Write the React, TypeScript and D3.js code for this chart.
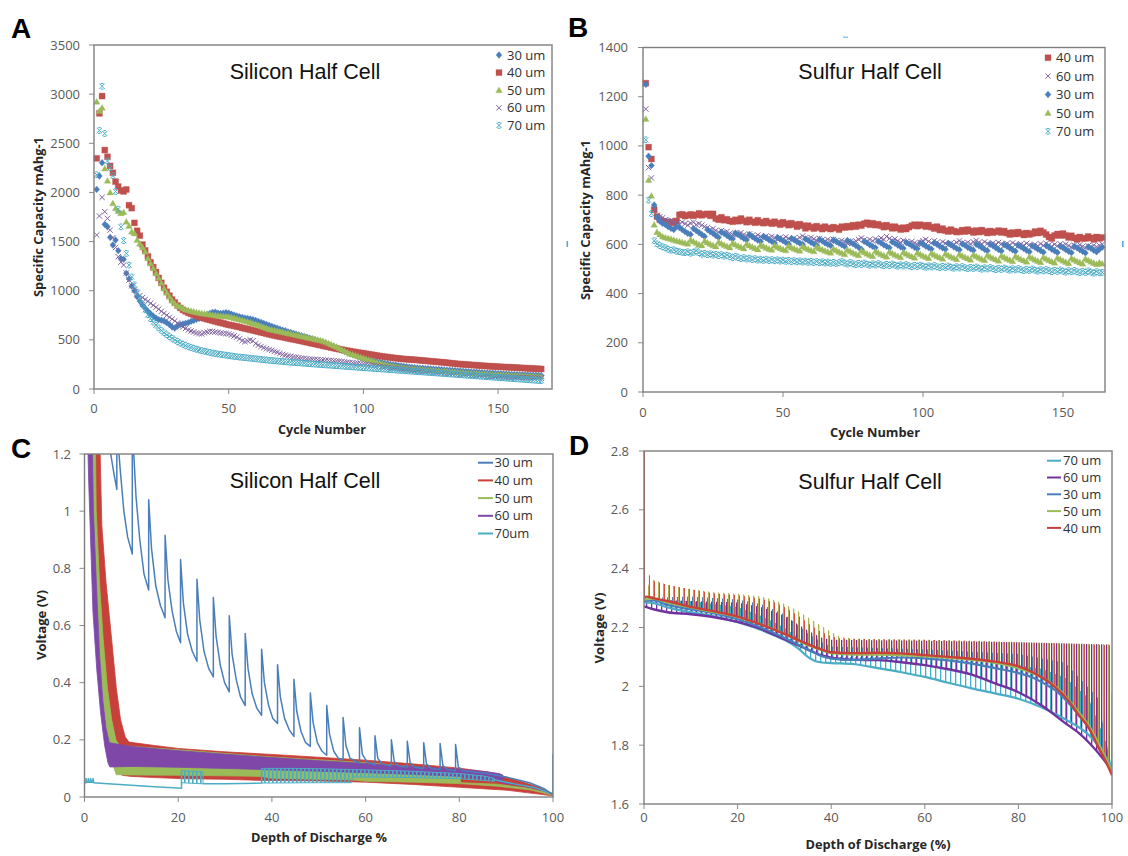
import React from "react";
import * as d3 from "d3";

// ---------------- Panel A: Silicon half cell, specific capacity vs cycle ----------------
const siCap30 = [
  2031,2167,2302,1675,1651,1543,1465,1516,1407,1329,
  1319,1177,1120,1048,1000,939,895,855,820,790,
  765,742,722,705,700,692,675,655,630,620,
  640,655,662,668,675,688,698,708,718,730,
  745,758,770,780,782,772,768,772,778,772,
  762,752,743,735,728,722,718,712,706,698,
  688,678,668,658,648,638,628,618,608,598,
  593,582,576,566,559,550,543,534,527,518,
  510,501,490,482,470,461,450,441,430,420,
  408,397,384,373,360,351,340,331,320,312,
  305,299,291,286,279,273,268,261,256,250,
  246,243,238,235,230,227,223,221,217,214,
  212,211,208,207,204,203,200,199,196,194,
  192,191,188,187,184,183,180,179,176,174,
  172,171,168,167,164,163,161,160,158,157,
  155,154,152,151,149,148,147,146,145,144,
  143,142,141,140,139,138,
];
const siCap40 = [
  2347,2804,2980,2431,2363,2270,2200,2110,2060,2020,
  2010,2030,1870,1840,1690,1610,1560,1470,1410,1350,
  1290,1240,1190,1130,1080,1030,990,950,910,880,
  850,825,805,790,775,765,755,745,735,725,
  718,710,703,695,688,680,675,668,660,653,
  648,642,636,630,622,616,610,603,597,590,
  583,577,570,563,557,550,544,538,533,528,
  522,516,510,505,500,494,488,482,476,470,
  464,458,452,446,440,434,428,422,416,410,
  405,400,395,390,385,380,376,371,367,363,
  358,354,349,345,340,336,332,328,324,320,
  317,314,311,308,305,303,301,299,297,295,
  292,290,287,285,282,280,277,275,272,270,
  267,264,261,258,255,253,251,249,247,245,
  243,241,239,237,235,233,231,230,228,227,
  225,224,222,221,220,218,217,215,214,212,
  211,209,208,206,205,204,
];
const siCap50 = [
  2923,2830,2862,2245,2120,2000,1890,1840,1810,1790,
  1800,1702,1660,1600,1584,1516,1480,1440,1397,1330,
  1278,1230,1177,1130,1080,1024,980,939,900,871,
  850,837,823,810,802,795,788,782,776,770,
  767,763,759,753,750,747,744,741,738,736,
  730,722,715,708,700,692,684,676,668,660,
  650,640,630,620,610,604,598,592,586,580,
  574,568,562,556,550,544,538,532,526,520,
  514,508,502,496,490,478,466,454,442,430,
  416,402,388,374,360,351,342,333,324,315,
  306,297,288,279,270,263,256,249,242,235,
  231,227,223,219,215,212,209,206,203,200,
  198,196,194,192,190,188,186,184,182,180,
  178,176,174,172,170,168,166,164,162,160,
  158,157,155,154,152,151,149,148,146,145,
  144,142,141,140,139,137,136,135,134,132,
  131,130,129,127,126,125,
];
const siCap60 = [
  1567,1760,1950,1804,1736,1617,1540,1440,1346,1290,
  1261,1180,1109,1050,1007,973,950,930,910,892,
  872,852,832,812,790,770,750,730,712,693,
  672,652,632,616,600,590,580,570,565,560,
  572,580,586,585,580,576,570,566,565,560,
  550,540,528,510,492,482,490,500,490,462,
  446,432,420,410,401,394,384,374,362,352,
  345,338,332,326,321,318,314,311,308,305,
  303,301,299,297,295,293,291,289,287,285,
  282,279,276,273,270,267,264,261,258,255,
  251,247,243,239,235,231,227,223,219,215,
  212,209,206,203,200,197,194,191,188,185,
  183,180,178,175,173,170,168,165,163,160,
  158,156,154,152,150,148,146,144,142,140,
  139,137,136,134,133,131,130,128,127,125,
  124,123,122,121,120,119,118,117,116,115,
  114,113,112,111,110,109,
];
const siCap70 = [
  2180,2630,3080,2600,2320,2250,2170,2010,1830,1650,
  1510,1380,1260,1140,1060,985,920,860,805,755,
  715,680,650,622,595,572,552,533,515,498,
  483,468,455,443,432,422,413,405,397,390,
  384,378,372,366,361,356,352,348,344,340,
  336,332,328,325,322,319,316,313,310,307,
  304,301,298,295,292,290,287,285,282,280,
  277,275,272,270,268,266,264,262,259,257,
  255,253,251,249,247,245,243,241,239,237,
  235,233,231,229,227,225,223,221,219,217,
  215,213,211,209,207,205,203,201,199,197,
  195,193,191,189,187,185,183,181,179,177,
  175,173,171,169,167,165,163,161,159,157,
  155,153,151,149,147,145,143,141,139,137,
  135,133,131,129,127,125,123,121,119,117,
  115,113,111,109,107,105,103,101,99,97,
  95,93,91,89,87,85,
];

// ---------------- Panel B: Sulfur half cell ----------------
const sCap40 = [
  1255,995,947,740,713,700,695,692,690,688,
  690,695,720,722,715,718,722,716,720,726,
  718,722,724,716,724,705,700,710,698,702,
  695,692,700,694,705,696,690,700,692,688,
  698,690,686,695,688,684,692,686,680,690,
  684,678,686,680,672,682,676,665,676,670,
  664,674,668,662,672,666,662,670,666,660,
  672,668,674,670,678,672,680,676,684,688,
  680,686,678,682,676,670,678,672,665,672,
  666,660,668,662,670,676,680,674,680,677,
  672,678,670,664,672,658,664,656,652,660,
  654,650,651,658,652,660,654,648,656,650,
  658,652,646,654,648,651,656,648,654,646,
  640,648,642,650,644,638,646,640,644,652,
  646,655,648,640,630,624,636,642,636,644,
  636,628,635,626,620,630,624,624,632,626,
  620,630,624,628,
];
const sCap60 = [
  1150,912,870,745,718,712,708,700,695,698,
  690,686,682,690,684,678,686,690,680,684,
  678,672,668,660,664,656,650,656,648,652,
  644,640,646,640,648,640,634,642,636,630,
  638,632,626,634,628,632,626,620,628,622,
  630,624,618,626,620,628,634,626,620,628,
  622,616,624,618,612,620,614,620,614,608,
  616,610,604,612,606,614,620,626,618,612,
  620,614,622,616,626,620,632,624,616,622,
  614,608,616,610,604,612,606,600,608,614,
  620,612,606,614,608,602,610,604,598,606,
  600,608,614,606,600,608,602,610,616,608,
  602,610,604,598,606,600,608,602,596,604,
  598,606,600,594,602,596,604,598,592,600,
  594,602,596,604,598,592,600,594,602,596,
  600,594,588,596,590,598,592,586,594,588,
  596,590,596,600,
];
const sCap30 = [
  1250,958,920,760,710,695,685,680,672,665,
  660,672,668,660,652,645,640,664,656,648,
  640,632,660,652,645,636,628,650,644,636,
  628,622,646,640,632,624,618,640,632,624,
  617,612,632,626,618,612,606,628,622,615,
  608,602,624,618,611,605,600,622,616,608,
  602,597,620,614,606,600,595,618,612,605,
  598,592,616,610,602,595,588,580,612,606,
  598,592,586,612,606,598,592,586,610,604,
  597,590,584,608,602,595,588,582,606,600,
  593,587,581,606,600,592,586,580,604,598,
  590,584,578,602,596,588,582,576,600,594,
  587,580,574,600,594,586,579,573,598,592,
  585,578,572,596,590,583,576,570,594,588,
  581,575,568,594,588,580,574,567,592,586,
  579,572,566,592,586,578,572,565,590,584,
  576,570,580,588,
];
const sCap50 = [
  1110,862,798,680,650,640,632,628,625,622,
  618,615,612,609,606,603,618,612,606,600,
  596,614,608,602,597,592,610,604,598,593,
  588,605,600,594,589,584,602,596,590,585,
  580,598,593,587,582,578,596,590,585,580,
  576,594,588,583,578,574,592,586,581,576,
  572,590,584,579,574,570,566,582,576,570,
  565,560,578,572,566,561,556,574,568,562,
  557,552,572,566,560,555,550,570,564,558,
  553,548,568,562,556,551,546,566,560,554,
  549,544,564,558,552,547,542,562,556,550,
  545,540,560,554,548,543,538,558,552,546,
  541,536,556,550,544,539,534,554,548,542,
  537,532,552,546,540,535,530,550,544,538,
  533,528,548,542,536,531,526,546,540,534,
  529,524,544,538,532,527,522,542,536,530,
  525,520,526,522,
];
const sCap70 = [
  1025,780,725,615,602,595,590,586,580,576,
  578,572,570,568,566,570,564,568,574,566,
  560,564,558,562,556,560,554,558,552,556,
  550,546,552,546,542,546,540,544,538,542,
  536,540,535,540,534,538,533,537,532,536,
  531,535,530,534,529,533,528,532,527,531,
  526,530,525,529,524,528,523,527,522,526,
  530,524,520,526,521,517,523,518,524,519,
  515,521,516,522,517,513,519,514,520,515,
  511,517,512,518,513,509,515,510,516,511,
  507,513,508,514,509,505,511,506,512,507,
  503,509,504,510,505,501,507,502,508,503,
  499,505,500,506,501,497,503,498,504,499,
  495,501,496,502,497,493,499,494,500,495,
  491,497,492,498,493,489,495,490,496,491,
  487,493,488,494,489,485,491,486,492,487,
  483,489,484,486,
];

// ---------------- Panel C: Silicon half cell voltage vs depth of discharge ----------------
const siV30 = [
  [4.8,1.3],[5.6,1.2],[6.3,1.13],[6.9,1.076],[6.9,1.3],[7.6,1.15],[8.4,1.0],[9.2,0.91],[10.2,0.85],
  [10.2,1.3],[11.0,1.05],[11.8,0.9],[12.7,0.78],[13.7,0.724],[13.7,1.04],[14.3,0.87],[15.2,0.74],[16.2,0.67],
  [17.2,0.627],[17.2,0.916],[17.8,0.76],[18.7,0.65],[19.6,0.58],[20.5,0.54],[20.5,0.831],[21.1,0.68],[22.0,0.57],
  [23.0,0.51],[24.0,0.475],[24.0,0.762],[24.6,0.62],[25.5,0.51],[26.5,0.45],[27.5,0.42],[27.5,0.698],[28.1,0.56],
  [29.0,0.46],[29.9,0.4],[30.9,0.368],[30.9,0.634],[31.5,0.5],[32.4,0.41],[33.3,0.35],[34.3,0.32],[34.3,0.572],
  [34.9,0.45],[35.8,0.36],[36.8,0.31],[37.8,0.286],[37.8,0.517],[38.4,0.4],[39.3,0.32],[40.2,0.275],[41.2,0.257],
  [41.2,0.463],[41.8,0.35],[42.7,0.275],[43.7,0.235],[44.7,0.212],[44.7,0.412],[45.3,0.3],[46.2,0.23],[47.2,0.19],
  [48.2,0.177],[48.2,0.364],[48.8,0.26],[49.7,0.19],[50.7,0.16],[51.7,0.146],[51.7,0.32],[52.3,0.22],[53.2,0.16],
  [54.2,0.135],[55.2,0.128],[55.2,0.278],[55.8,0.18],[56.7,0.135],[58.7,0.118],[58.7,0.242],[59.3,0.15],[60.3,0.122],
  [62.0,0.113],[62.0,0.214],[62.6,0.135],[63.6,0.115],[65.5,0.108],[65.5,0.2],[66.1,0.125],[67.0,0.108],[68.9,0.104],
  [68.9,0.195],[69.5,0.12],[70.5,0.104],[72.4,0.1],[72.4,0.19],[73.0,0.115],[74.0,0.1],[75.9,0.096],[75.9,0.187],
  [76.5,0.11],[77.5,0.096],[79.2,0.092],[79.2,0.184],[79.8,0.105],[80.8,0.092],[85,0.085],[90,0.07],[95,0.05],
  [98,0.03],[100,0.008],[100,0.15],
];
const siV40Band = [
  [2.0,1.3],[3.2,1.3],[3.7,0.95],[4.6,0.75],[5.8,0.55],[6.8,0.38],[7.7,0.27],[8.7,0.21],[9.5,0.192],
  [15,0.18],[20,0.17],[30,0.158],[40,0.149],[50,0.139],[60,0.129],[70,0.116],[80,0.101],[86,0.088],
  [92,0.06],[97,0.035],[100,0.008],[100,0.004],[90,0.024],[80,0.034],[70,0.044],[60,0.052],[50,0.056],
  [38,0.058],[30,0.062],[21,0.064],[15,0.068],[10,0.072],[8.0,0.076],[7.5,0.12],[6.8,0.18],[5.8,0.25],
  [4.8,0.35],[3.8,0.5],[3.1,0.7],[2.3,0.95],[2.0,1.3],
];
const siV50Band = [
  [1.5,1.3],[2.3,1.3],[2.5,1.0],[3.2,0.75],[4.0,0.55],[4.9,0.38],[5.8,0.27],[6.7,0.2],[7.5,0.18],
  [20,0.165],[40,0.14],[60,0.12],[75,0.1],[80,0.09],[80.3,0.05],[88,0.045],[95,0.03],[100,0.009],
  [100,0.006],[95,0.025],[88,0.038],[80,0.047],[70,0.052],[60,0.055],[57,0.06],[50,0.062],[40,0.066],
  [37.8,0.072],[30,0.074],[20,0.076],[10,0.077],[6.8,0.078],[6.3,0.1],[5.6,0.15],[4.8,0.22],[4.0,0.33],
  [3.2,0.5],[2.5,0.7],[1.8,0.95],[1.5,1.3],
];
const siV60Band = [
  [0.6,1.3],[1.6,1.3],[1.9,1.0],[2.6,0.72],[3.2,0.5],[3.9,0.34],[4.6,0.24],[5.3,0.19],[10,0.177],
  [20,0.162],[30,0.15],[40,0.138],[50,0.127],[60,0.117],[70,0.107],[80,0.097],[86,0.088],[88.5,0.082],
  [89.3,0.077],[89.3,0.05],[88,0.056],[80,0.072],[70,0.079],[60,0.085],[50,0.09],[40,0.095],[30,0.1],
  [20,0.104],[10,0.107],[5.4,0.105],[5.0,0.12],[4.3,0.18],[3.4,0.3],[2.6,0.45],[1.8,0.65],[1.3,0.9],
  [0.9,1.1],[0.6,1.3],
];
const siV60Tail = [[89.3,0.05],[93,0.042],[96,0.032],[98,0.024],[100,0.01]];
const siV70Line = [
  [0,0.05],[0.3,0.05],[0.3,0.066],[0.5,0.052],[0.8,0.052],[0.8,0.066],[1.0,0.052],[1.3,0.052],[1.3,0.066],
  [1.5,0.052],[1.8,0.051],[1.8,0.066],[2.0,0.05],[5,0.046],[10,0.041],[15,0.036],[20.7,0.031],[20.7,0.092],
];
const siV70Mid = [[25.3,0.046],[30,0.046],[37.8,0.049],[37.8,0.1]];
const siV70Tail = [[87.5,0.06],[92,0.045],[96,0.033],[100,0.01]];
const siV70Block = [[20.7,0.092],[25.3,0.088],[25.3,0.046],[20.7,0.05]];
const siV70Band = [
  [37.8,0.1],[45,0.1],[50,0.099],[57,0.096],[60,0.095],[70,0.09],[80,0.082],[85,0.074],[87.5,0.065],
  [87.5,0.055],[80,0.064],[70,0.068],[60,0.07],[57.2,0.07],[57,0.05],[50,0.05],[40,0.049],[37.8,0.049],
];

// ---------------- Panel D: Sulfur half cell voltage vs depth of discharge ----------------
const sV40Low = [[0,2.3],[0.5,2.305],[2,2.3],[5,2.29],[10,2.27],[15,2.255],[20,2.237],[25,2.21],[30,2.178],[34,2.15],[37.5,2.128],[40,2.116],[45,2.113],[50,2.114],[55,2.112],[60,2.106],[65,2.1],[70,2.094],[75,2.084],[80,2.068],[83,2.048],[86,2.02],[88,1.995],[90.5,1.955],[93,1.9],[95,1.86],[97,1.795],[98.5,1.75],[100,1.698]];
const sV40Top = [[0.8,2.39],[1.7,2.36],[5,2.345],[10,2.33],[15,2.316],[20,2.31],[25,2.298],[28,2.285],[30,2.27],[33,2.24],[35,2.215],[37.5,2.188],[40,2.17],[42,2.163],[50,2.16],[60,2.158],[70,2.155],[80,2.15],[90,2.146],[99.6,2.14]];
const sV40Spike = [[0,2.3],[0,2.8]];
const sV50Low = [[0,2.295],[2,2.298],[5,2.285],[10,2.268],[15,2.252],[20,2.235],[25,2.21],[30,2.178],[35,2.14],[38,2.123],[40,2.113],[45,2.108],[50,2.108],[60,2.102],[70,2.09],[75,2.08],[80,2.062],[85,2.03],[88,1.998],[90,1.968],[93,1.91],[95,1.868],[97,1.81],[99,1.745],[100,1.71]];
const sV50Top = [[1.4,2.366],[5,2.345],[10,2.33],[15,2.32],[20,2.315],[25,2.305],[28,2.293],[30,2.28],[33,2.255],[35,2.235],[38,2.205],[40,2.185],[42,2.168],[45,2.162],[60,2.158],[80,2.15],[99.6,2.143]];
const sV50End = [[100,1.71],[100,1.98]];
const sV30Low = [[0,2.29],[2,2.292],[5,2.277],[10,2.262],[15,2.248],[20,2.228],[25,2.2],[30,2.165],[35,2.125],[38,2.102],[40,2.094],[45,2.09],[50,2.094],[55,2.098],[60,2.095],[65,2.088],[70,2.077],[75,2.062],[80,2.045],[83,2.03],[86,2.005],[88,1.985],[90,1.955],[93,1.9],[95,1.86],[97,1.8],[99,1.74],[100,1.71]];
const sV30Top = [[0.5,2.3],[10,2.305],[20,2.295],[25,2.28],[30,2.245],[35,2.18],[38,2.15],[40,2.135],[60,2.125],[80,2.11],[90,2.08],[97,1.96]];
const sV60Low = [[0,2.272],[2,2.262],[5,2.252],[10,2.245],[15,2.235],[20,2.219],[25,2.195],[30,2.16],[35,2.125],[38,2.105],[40,2.097],[45,2.09],[50,2.089],[55,2.082],[60,2.072],[65,2.058],[70,2.04],[75,2.01],[80,1.98],[85,1.935],[90,1.875],[93,1.84],[95,1.81],[97,1.775],[99,1.735],[100,1.715]];
const sV60Top = [[0.5,2.295],[5,2.293],[10,2.29],[20,2.285],[25,2.27],[30,2.24],[35,2.19],[38,2.165],[40,2.158],[60,2.155],[80,2.15],[99.6,2.142]];
const sV70Low = [[0,2.285],[2,2.283],[5,2.268],[10,2.252],[15,2.238],[20,2.218],[25,2.192],[28,2.172],[30,2.158],[33,2.128],[35,2.1],[36.5,2.086],[38,2.081],[40,2.079],[45,2.075],[50,2.062],[55,2.048],[60,2.032],[65,2.012],[70,1.993],[75,1.976],[80,1.958],[85,1.928],[88,1.905],[90,1.888],[93,1.86],[95,1.835],[97,1.8],[99,1.75],[100,1.72]];
const sV70Top = [[0.5,2.295],[10,2.29],[20,2.27],[25,2.24],[30,2.2],[33,2.165],[36,2.11],[38,2.1],[50,2.1],[60,2.095],[70,2.085],[80,2.072],[85,2.06],[90,2.03],[95,1.96],[99,1.8]];

// ---------------- axes ticks / labels ----------------
const cycleTicks = [0, 50, 100, 150];
const capTicksA = [0, 500, 1000, 1500, 2000, 2500, 3000, 3500];
const capTicksB = [0, 200, 400, 600, 800, 1000, 1200, 1400];
const dodTicks = [0, 20, 40, 60, 80, 100];
const voltTicksC = [0, 0.2, 0.4, 0.6, 0.8, 1, 1.2];
const voltTicksD = [1.6, 1.8, 2, 2.2, 2.4, 2.6, 2.8];
const legendA = ["30 um", "40 um", "50 um", "60 um", "70 um"];
const legendB = ["40 um", "60 um", "30 um", "50 um", "70 um"];
const legendC = ["30 um", "40 um", "50 um", "60 um", "70um"];
const legendD = ["70 um", "60 um", "30 um", "50 um", "40 um"];

const COL = {
  blue: "#4A7EBB",
  red: "#C0504D",
  green: "#9BBB59",
  purple: "#8064A2",
  cyan: "#4BACC6",
};
const CPURPLE = "#7E47A8";
const CRED = "#C8403A";
const DPURPLE = "#7032A0";

const SHAPES: Record<string, { d: string; fill: boolean }> = {
  diamond: { d: "M0,-3.4L3,0L0,3.4L-3,0Z", fill: true },
  square: { d: "M-3,-3H3V3H-3Z", fill: true },
  triangle: { d: "M0,-3.2L3.3,2.6H-3.3Z", fill: true },
  x: { d: "M-2.7,-2.7L2.7,2.7M-2.7,2.7L2.7,-2.7", fill: false },
  star: { d: "M-2.6,-2.6L2.6,2.6M-2.6,2.6L2.6,-2.6M-1.4,-2.8H1.4M-1.4,2.8H1.4", fill: false },
};

const tickStyle: React.CSSProperties = { fontFamily: "'Open Sans', sans-serif", fontSize: 13, fill: "#595959" };
const axTitle: React.CSSProperties = { fontFamily: "'Open Sans', sans-serif", fontSize: 12.5, fontWeight: 700, fill: "#262626" };
const legStyle: React.CSSProperties = { fontFamily: "'Open Sans', sans-serif", fontSize: 13, fill: "#303030" };
const titleStyle: React.CSSProperties = { fontFamily: "'Liberation Sans', Arial, sans-serif", fontSize: 21.5, fill: "#111" };
const letterStyle: React.CSSProperties = { fontFamily: "'Liberation Sans', Arial, sans-serif", fontSize: 28, fontWeight: 700, fill: "#000" };

function fmtNum(v: number) {
  return String(+v.toFixed(1));
}

function Ticks({ xs, ys, xt, yt, xLabY, yLabX }: any) {
  const [l] = xs.range();
  const [b] = ys.range();
  return (
    <g>
      {xt.map((v: number) => (
        <line key={"xt" + v} x1={xs(v)} x2={xs(v)} y1={b} y2={b + 5} stroke="#8a8a8a" strokeWidth={1} />
      ))}
      {yt.map((v: number) => (
        <line key={"yt" + v} x1={l - 5} x2={l} y1={ys(v)} y2={ys(v)} stroke="#8a8a8a" strokeWidth={1} />
      ))}
      {xt.map((v: number) => (
        <text key={"xl" + v} x={xs(v)} y={xLabY} textAnchor="middle" style={tickStyle}>
          {fmtNum(v)}
        </text>
      ))}
      {yt.map((v: number) => (
        <text key={"yl" + v} x={yLabX} y={ys(v) + 4.5} textAnchor="end" style={tickStyle}>
          {fmtNum(v)}
        </text>
      ))}
    </g>
  );
}

function Box({ xs, ys }: any) {
  const [l, r] = xs.range();
  const [b, t] = ys.range();
  return <rect x={l} y={t} width={r - l} height={b - t} fill="none" stroke="#7f7f7f" strokeWidth={1.4} />;
}

function Markers({ data, xs, ys, shape, color }: any) {
  const s = SHAPES[shape];
  return (
    <g>
      {data.map((v: number, i: number) => (
        <path
          key={i}
          d={s.d}
          transform={`translate(${xs(i + 1)},${ys(v)})`}
          fill={s.fill ? color : "none"}
          stroke={color}
          strokeWidth={s.fill ? 0.3 : 1}
        />
      ))}
    </g>
  );
}

export default function App() {
  const xA = d3.scaleLinear().domain([0, 170]).range([94, 552]);
  const yA = d3.scaleLinear().domain([0, 3500]).range([389, 45]);
  const xB = d3.scaleLinear().domain([0, 165]).range([643, 1105]);
  const yB = d3.scaleLinear().domain([0, 1400]).range([392, 47.5]);
  const xC = d3.scaleLinear().domain([0, 100]).range([84.5, 553]);
  const yC = d3.scaleLinear().domain([0, 1.2]).range([797, 454]);
  const xD = d3.scaleLinear().domain([0, 100]).range([644, 1112]);
  const yD = d3.scaleLinear().domain([1.6, 2.8]).range([804, 451]);

  const lineC = d3.line<number[]>().x((d) => xC(d[0])).y((d) => yC(d[1]));
  const lineD = d3.line<number[]>().x((d) => xD(d[0])).y((d) => yD(d[1]));
  const lowD = d3
    .line<number[]>()
    .x((d) => xD(d[0]))
    .y((d) => yD(d[1]))
    .curve(d3.curveMonotoneX);
  const polyD = (top: number[][], low: number[][]) => lineD([...top, ...low.slice().reverse()]) + "Z";

  const seriesA = [
    { data: siCap30, shape: "diamond", color: COL.blue },
    { data: siCap40, shape: "square", color: COL.red },
    { data: siCap50, shape: "triangle", color: COL.green },
    { data: siCap60, shape: "x", color: COL.purple },
    { data: siCap70, shape: "star", color: COL.cyan },
  ];
  const seriesB = [
    { data: sCap40, shape: "square", color: COL.red },
    { data: sCap60, shape: "x", color: COL.purple },
    { data: sCap30, shape: "diamond", color: COL.blue },
    { data: sCap50, shape: "triangle", color: COL.green },
    { data: sCap70, shape: "star", color: COL.cyan },
  ];
  const legColC = [COL.blue, CRED, COL.green, CPURPLE, COL.cyan];
  const legColD = [COL.cyan, DPURPLE, COL.blue, COL.green, CRED];

  // hatch patterns: one vertical stripe per 5px tile, each series at its own phase
  const hatchD = [
    { id: "hatchD70", color: "#3FAFCB", off: 0, top: sV70Top, low: sV70Low },
    { id: "hatchD60", color: DPURPLE, off: 1, top: sV60Top, low: sV60Low },
    { id: "hatchD30", color: COL.blue, off: 2, top: sV30Top, low: sV30Low },
    { id: "hatchD50", color: "#B3B24A", off: 3, top: sV50Top, low: sV50Low },
    { id: "hatchD40", color: "#D4523C", off: 3.9, top: sV40Top, low: sV40Low },
  ];

  return (
    <svg width={1128} height={856} style={{ display: "block", position: "absolute", left: 0, top: 0, background: "#fff" }}>
      <defs>
        <clipPath id="clipC">
          <rect x={84.5} y={454} width={553 - 84.5} height={797 - 454} />
        </clipPath>
        <clipPath id="clipD">
          <rect x={644} y={451} width={1112 - 644} height={804 - 451} />
        </clipPath>
        <pattern id="hatchCyanC" x={0} y={0} width={4} height={8} patternUnits="userSpaceOnUse">
          <rect x={0} y={0} width={1.6} height={8} fill={COL.cyan} />
        </pattern>
        {hatchD.map((h) => (
          <pattern key={h.id} id={h.id} x={0} y={0} width={5} height={8} patternUnits="userSpaceOnUse">
            <rect x={h.off} y={0} width={1.3} height={8} fill={h.color} />
          </pattern>
        ))}
      </defs>
      <rect x={0} y={0} width={1128} height={856} fill="#fff" />

      {/* ================= Panel A ================= */}
      <text x={11} y={38} style={letterStyle}>A</text>
      <Ticks xs={xA} ys={yA} xt={cycleTicks} yt={capTicksA} xLabY={413} yLabX={80} />
      {seriesA.map((s, i) => (
        <Markers key={i} data={s.data} xs={xA} ys={yA} shape={s.shape} color={s.color} />
      ))}
      <Box xs={xA} ys={yA} />
      <text x={305} y={79} textAnchor="middle" style={titleStyle}>Silicon Half Cell</text>
      {legendA.map((t, i) => (
        <g key={t} transform={`translate(0,${55 + i * 17.6})`}>
          <path
            d={SHAPES[seriesA[i].shape].d}
            transform="translate(499,0)"
            fill={SHAPES[seriesA[i].shape].fill ? seriesA[i].color : "none"}
            stroke={seriesA[i].color}
            strokeWidth={SHAPES[seriesA[i].shape].fill ? 0.3 : 1}
          />
          <text x={507} y={4.6} style={legStyle}>{t}</text>
        </g>
      ))}
      <text x={322} y={434} textAnchor="middle" style={axTitle} textLength={88} lengthAdjust="spacingAndGlyphs">Cycle Number</text>
      <text transform="translate(42.5,217) rotate(-90)" textAnchor="middle" style={axTitle} textLength={160} lengthAdjust="spacingAndGlyphs">
        Specific Capacity mAhg-1
      </text>

      {/* ================= Panel B ================= */}
      <text x={568} y={37} style={letterStyle}>B</text>
      <rect x={566.5} y={241} width={1.6} height={6} fill="#5aa8e0" />
      <rect x={1122} y={241} width={1.6} height={6} fill="#5aa8e0" />
      <rect x={843} y={36.5} width={5} height={1.4} fill="#8cc4ea" />
      <Ticks xs={xB} ys={yB} xt={cycleTicks} yt={capTicksB} xLabY={416.5} yLabX={628} />
      {seriesB.map((s, i) => (
        <Markers key={i} data={s.data} xs={xB} ys={yB} shape={s.shape} color={s.color} />
      ))}
      <Box xs={xB} ys={yB} />
      <text x={870} y={79} textAnchor="middle" style={titleStyle}>Sulfur Half Cell</text>
      {legendB.map((t, i) => (
        <g key={t} transform={`translate(0,${57.7 + i * 18.4})`}>
          <path
            d={SHAPES[seriesB[i].shape].d}
            transform="translate(1048,0)"
            fill={SHAPES[seriesB[i].shape].fill ? seriesB[i].color : "none"}
            stroke={seriesB[i].color}
            strokeWidth={SHAPES[seriesB[i].shape].fill ? 0.3 : 1}
          />
          <text x={1056} y={4.6} style={legStyle}>{t}</text>
        </g>
      ))}
      <text x={875} y={437} textAnchor="middle" style={axTitle} textLength={90} lengthAdjust="spacingAndGlyphs">Cycle Number</text>
      <text transform="translate(590,220) rotate(-90)" textAnchor="middle" style={axTitle} textLength={160} lengthAdjust="spacingAndGlyphs">
        Specific Capacity mAhg-1
      </text>

      {/* ================= Panel C ================= */}
      <text x={11} y={458} style={letterStyle}>C</text>
      <Ticks xs={xC} ys={yC} xt={dodTicks} yt={voltTicksC} xLabY={821.5} yLabX={71} />
      <g clipPath="url(#clipC)">
        <path d={lineC(siV40Band) + "Z"} fill={CRED} stroke={CRED} strokeWidth={0.8} />
        <path d={lineC(siV50Band) + "Z"} fill={COL.green} stroke={COL.green} strokeWidth={0.8} />
        <path d={lineC(siV60Band) + "Z"} fill={CPURPLE} stroke={CPURPLE} strokeWidth={0.8} />
        <path d={lineC(siV60Tail) || ""} fill="none" stroke={CPURPLE} strokeWidth={1.6} />
        <path d={lineC(siV70Band) + "Z"} fill="url(#hatchCyanC)" stroke={COL.cyan} strokeWidth={1} />
        <path d={lineC(siV70Block) + "Z"} fill="url(#hatchCyanC)" stroke={COL.cyan} strokeWidth={1} />
        <path d={lineC(siV70Line) || ""} fill="none" stroke={COL.cyan} strokeWidth={1.5} />
        <path d={lineC(siV70Mid) || ""} fill="none" stroke={COL.cyan} strokeWidth={1.5} />
        <path d={lineC(siV70Tail) || ""} fill="none" stroke={COL.cyan} strokeWidth={1.5} />
        <path d={lineC(siV30) || ""} fill="none" stroke={COL.blue} strokeWidth={1.5} strokeLinejoin="round" />
      </g>
      <Box xs={xC} ys={yC} />
      <text x={305} y={488} textAnchor="middle" style={titleStyle}>Silicon Half Cell</text>
      {legendC.map((t, i) => (
        <g key={t} transform={`translate(0,${462.7 + i * 17.7})`}>
          <line x1={478} x2={493} y1={0} y2={0} stroke={legColC[i]} strokeWidth={2} />
          <text x={494.5} y={4.6} style={legStyle}>{t}</text>
        </g>
      ))}
      <text x={319} y={842} textAnchor="middle" style={axTitle} textLength={136} lengthAdjust="spacingAndGlyphs">Depth of Discharge %</text>
      <text transform="translate(45.5,625) rotate(-90)" textAnchor="middle" style={axTitle} textLength={70} lengthAdjust="spacingAndGlyphs">
        Voltage (V)
      </text>

      {/* ================= Panel D ================= */}
      <text x={569} y={455} style={letterStyle}>D</text>
      <Ticks xs={xD} ys={yD} xt={dodTicks} yt={voltTicksD} xLabY={822} yLabX={629} />
      <g clipPath="url(#clipD)">
        {hatchD.map((h) => (
          <path key={h.id} d={polyD(h.top, h.low)} fill={`url(#${h.id})`} stroke="none" />
        ))}
        <path d={lowD(sV70Low) || ""} fill="none" stroke={COL.cyan} strokeWidth={2.2} />
        <path d={lowD(sV60Low) || ""} fill="none" stroke={DPURPLE} strokeWidth={2.4} />
        <path d={lowD(sV30Low) || ""} fill="none" stroke={COL.blue} strokeWidth={2.2} />
        <path d={lowD(sV50Low) || ""} fill="none" stroke={COL.green} strokeWidth={2.2} />
        <path d={lineD(sV50End) || ""} fill="none" stroke={COL.green} strokeWidth={1.5} />
        <path d={lowD(sV40Low) || ""} fill="none" stroke={CRED} strokeWidth={2.4} />
        <path d={lineD(sV40Spike) || ""} fill="none" stroke={CRED} strokeWidth={2} />
      </g>
      <Box xs={xD} ys={yD} />
      <text x={870} y={489} textAnchor="middle" style={titleStyle}>Sulfur Half Cell</text>
      {legendD.map((t, i) => (
        <g key={t} transform={`translate(0,${460.7 + i * 16.8})`}>
          <line x1={1047} x2={1061} y1={0} y2={0} stroke={legColD[i]} strokeWidth={2} />
          <text x={1063} y={4.6} style={legStyle}>{t}</text>
        </g>
      ))}
      <text x={878} y={849} textAnchor="middle" style={axTitle} textLength={145} lengthAdjust="spacingAndGlyphs">Depth of Discharge (%)</text>
      <text transform="translate(604,628) rotate(-90)" textAnchor="middle" style={axTitle} textLength={71} lengthAdjust="spacingAndGlyphs">
        Voltage (V)
      </text>
    </svg>
  );
}
